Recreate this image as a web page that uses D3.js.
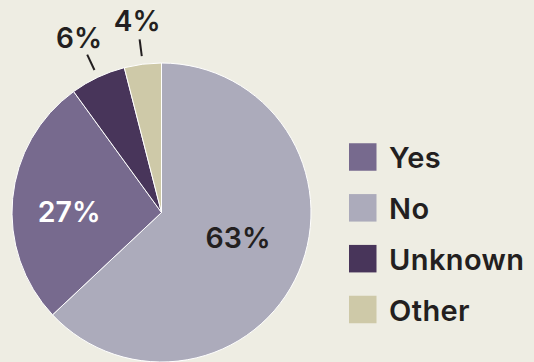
<!DOCTYPE html>
<html>
<head>
<meta charset="utf-8">
<script src="https://cdn.jsdelivr.net/npm/d3@7"></script>
<style>
  html, body { margin: 0; padding: 0; background: #eeede3; }
  svg { display: block; }
  text { font-family: "Inter", "Lato", sans-serif; }
</style>
</head>
<body>
<svg id="chart" width="534" height="362"></svg>
<script>
// Response shares, drawn clockwise from 12 o'clock
const categories = ["No", "Yes", "Unknown", "Other"];
const shares = [63, 27, 6, 4];
const sliceColors = ["#acabbb", "#776a8e", "#48355a", "#cec9a8"];
const legendOrder = ["Yes", "No", "Unknown", "Other"];
// slices whose percentage sits outside the pie with a leader line
const outsideLabels = ["Unknown", "Other"];

const svg = d3.select("#chart");
const W = 534, H = 362;
const cx = 161.5, cy = 212.5, R = 149.5;
const ink = "#231f20";

svg.append("rect").attr("width", W).attr("height", H).attr("fill", "#eeede3");

const color = d3.scaleOrdinal().domain(categories).range(sliceColors);

const pie = d3.pie().sort(null).value(d => d.value);
const data = pie(categories.map((c, i) => ({ name: c, value: shares[i] })));

const arc = d3.arc().innerRadius(0).outerRadius(R);
const g = svg.append("g").attr("transform", `translate(${cx},${cy})`);

g.selectAll("path.slice")
  .data(data)
  .join("path")
  .attr("class", "slice")
  .attr("d", arc)
  .attr("fill", d => color(d.data.name))
  .attr("stroke", "#ffffff")
  .attr("stroke-width", 1);

// Labels inside the pie, placed near the slice centroid with a small nudge
const innerLabelArc = d3.arc().innerRadius(R * 0.58).outerRadius(R * 0.58);
const nudge = { Yes: [-6, 7], No: [-3, -9] };
g.selectAll("text.inner")
  .data(data.filter(d => !outsideLabels.includes(d.data.name)))
  .join("text")
  .attr("class", "inner")
  .attr("transform", d => {
    const [x, y] = innerLabelArc.centroid(d);
    const [nx, ny] = nudge[d.data.name] || [0, 0];
    return `translate(${x + nx},${y + ny})`;
  })
  .attr("text-anchor", "middle")
  .attr("dy", "0.36em")
  .attr("font-size", 28.5)
  .attr("font-weight", 600)
  .attr("fill", d => d.data.name === "Yes" ? "#ffffff" : ink)
  .text(d => d.data.value + "%");

// Labels outside the pie, each with a short leader line
const polar = (a, r) => [Math.sin(a) * r, -Math.cos(a) * r];
const outer = data.filter(d => outsideLabels.includes(d.data.name));
const mid = d => (d.startAngle + d.endAngle) / 2;

g.selectAll("line.leader")
  .data(outer)
  .join("line")
  .attr("class", "leader")
  .attr("x1", d => polar(mid(d), R + 8)[0])
  .attr("y1", d => polar(mid(d), R + 8)[1])
  .attr("x2", d => polar(mid(d), R + 25)[0])
  .attr("y2", d => polar(mid(d), R + 25)[1])
  .attr("stroke", ink)
  .attr("stroke-width", 2);

g.selectAll("text.outer")
  .data(outer)
  .join("text")
  .attr("class", "outer")
  .attr("transform", d => `translate(${polar(mid(d), R + 44)})`)
  .attr("text-anchor", "middle")
  .attr("dy", "0.36em")
  .attr("font-size", 28)
  .attr("font-weight", 600)
  .attr("fill", ink)
  .text(d => d.data.value + "%");

// Legend
const legendY = d3.scalePoint().domain(legendOrder).range([157, 309.5]);
const legend = svg.append("g");
const items = legend.selectAll("g")
  .data(legendOrder)
  .join("g")
  .attr("transform", d => `translate(349,${legendY(d)})`);

items.append("rect")
  .attr("x", 0).attr("y", -13.75)
  .attr("width", 27.5).attr("height", 27.5)
  .attr("fill", d => color(d));

items.append("text")
  .attr("x", 40)
  .attr("y", 1)
  .attr("dy", "0.36em")
  .attr("font-size", 29)
  .attr("font-weight", 600)
  .attr("letter-spacing", 0.4)
  .attr("fill", ink)
  .text(d => d);
</script>
</body>
</html>
